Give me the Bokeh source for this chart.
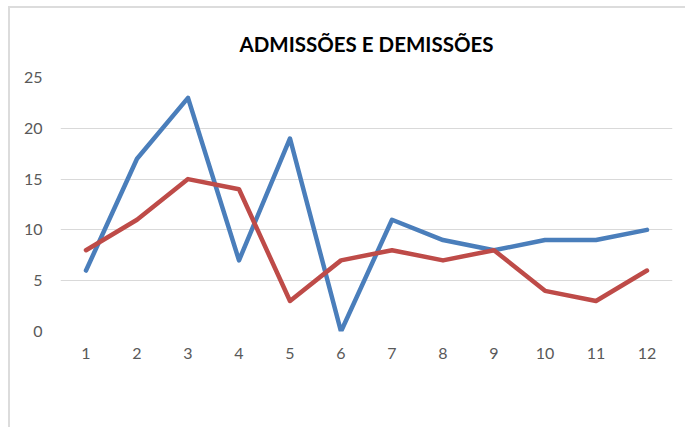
from bokeh.plotting import figure
from bokeh.models import (Range1d, FactorRange, Legend, LegendItem, ColumnDataSource, FixedTicker)
from bokeh.embed import file_html
from bokeh.resources import INLINE

months = ["1", "2", "3", "4", "5", "6", "7", "8", "9", "10", "11", "12"]
admissao = [6, 17, 23, 7, 19, 0, 11, 9, 8, 9, 9, 10]
demissao = [8, 11, 15, 14, 3, 7, 8, 7, 8, 4, 3, 6]
y_ticks = [0, 5, 10, 15, 20, 25]
title_text = "ADMISSÕES E DEMISSÕES"

FONT = "Lato"
TXT = "#595959"

src = ColumnDataSource(dict(m=months, a=admissao, d=demissao))

p = figure(frame_width=612, frame_height=254, x_range=FactorRange(factors=months),
           y_range=Range1d(0, 25), output_backend="svg", toolbar_location=None,
           title=title_text,
           min_border_left=50, min_border_right=13, min_border_top=68, min_border_bottom=97)
p.styles = {"margin-left": "8px", "margin-top": "6px",
            "border-left": "2px solid #dcdcdc", "border-top": "2px solid #dcdcdc"}

p.title.align = "center"
p.title.text_font = FONT
p.title.text_font_size = "20.5px"
p.title.text_font_style = "bold"
p.title.text_color = "#000000"
p.title.standoff = 43

p.outline_line_color = None
p.xgrid.grid_line_color = None
p.ygrid.grid_line_color = "#d9d9d9"
p.ygrid.grid_line_width = 1
p.yaxis.ticker = FixedTicker(ticks=y_ticks)

for ax in (p.xaxis, p.yaxis):
    ax.axis_line_color = None
    ax.major_tick_line_color = None
    ax.minor_tick_line_color = None
    ax.major_tick_out = 0
    ax.major_tick_in = 0
    ax.major_label_text_font = FONT
    ax.major_label_text_font_size = "16px"
    ax.major_label_text_color = TXT
p.yaxis.major_label_standoff = 18
p.xaxis.major_label_standoff = 16

ra = p.line("m", "a", source=src, line_color="#4a7ebb", line_width=4.5, line_join="round", line_cap="round")
rd = p.line("m", "d", source=src, line_color="#be4b48", line_width=4.5, line_join="round", line_cap="round")

legend = Legend(items=[LegendItem(label="Admissão", renderers=[ra]),
                       LegendItem(label="Demissão", renderers=[rd])],
                orientation="horizontal", location=(162, 10),
                label_text_font=FONT, label_text_font_size="17px", label_text_color=TXT,
                glyph_width=45, glyph_height=20, label_standoff=4, spacing=21,
                margin=0, padding=0,
                border_line_color=None, background_fill_alpha=0)
p.add_layout(legend, "below")

open("out.html", "w").write(file_html(p, INLINE))
